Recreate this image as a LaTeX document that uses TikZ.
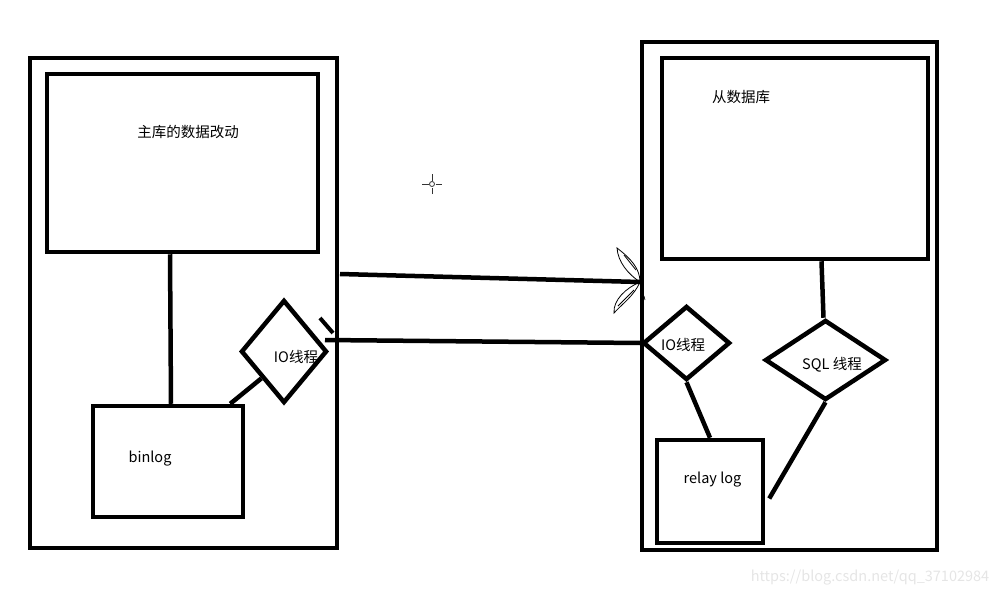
\documentclass[tikz,border=0pt]{standalone}
\usepackage{fontspec}
\setmainfont{Noto Sans CJK SC}
\usetikzlibrary{shapes.geometric}
\begin{document}
\begin{tikzpicture}[x=1pt,y=-1pt,
  thick line/.style={line width=4.5pt},
  boxnode/.style={draw,thick line,rectangle,inner sep=0pt},
  dianode/.style={draw,thick line,diamond,inner sep=0pt,aspect=1},
  lbl/.style={font=\fontsize{14.5}{16}\selectfont,inner sep=0pt},
  leaf/.style={line width=0.8pt},
  cross/.style={line width=1pt,black!80}]
\useasboundingbox (0,0) rectangle (1002,598);
% left side
\node[boxnode,minimum width=307pt,minimum height=490pt] (lout) at (183.5,303) {};
\node[boxnode,minimum width=271pt,minimum height=178pt] (mbox) at (182.5,163) {};
\node[boxnode,minimum width=150pt,minimum height=111pt] (binlog) at (168,461.5) {};
\node[dianode,minimum width=86pt,minimum height=103pt] (ldia) at (284,351.5) {};
\node[lbl] (t1) at (188,132) {主库的数据改动};
\node[lbl] (t2) at (150,459) {binlog};
\node[lbl] (t3) at (296,357) {IO线程};
% right side
\node[boxnode,minimum width=295pt,minimum height=508pt] (rout) at (789.5,296) {};
\node[boxnode,minimum width=266pt,minimum height=201pt] (rbox) at (795,158.5) {};
\node[dianode,minimum width=87pt,minimum height=74pt] (rio) at (686.5,343) {};
\node[dianode,minimum width=121pt,minimum height=80pt] (sql) at (825.5,360) {};
\node[boxnode,minimum width=106pt,minimum height=103pt] (relay) at (710,491.5) {};
\node[lbl] (t4) at (741,97) {从数据库};
\node[lbl] (t5) at (683,345) {IO线程};
\node[lbl] (t6) at (832,365) {SQL 线程};
\node[lbl] (t7) at (712.5,480) {relay log};
% connectors left
\draw[thick line] ([xshift=2pt]mbox.south -| binlog.north) -- ([xshift=3pt]binlog.north);
\draw[thick line] ([xshift=-15pt]binlog.north east) -- (ldia.south west);
% arrows between
\coordinate (u1) at (340,274);
\coordinate (u2) at (640,282);
\draw[thick line] (u1) -- (u2);
\coordinate (l1) at (325,340);
\draw[thick line] (l1) -- (rio.west);
\coordinate (k1) at (320,318);
\coordinate (k2) at (333,333);
\draw[line width=4pt] (k1) -- (k2);
% leaf arrowhead outline
\draw[leaf] (u2) .. controls (640,268) and (630,258) .. (617,248)
  .. controls (618,262) and (628,274) .. (u2);
\draw[leaf] (624,255) -- (636,270);
\draw[leaf] (u2) .. controls (634,296) and (622,304) .. (614,313)
  .. controls (613,300) and (626,288) .. (u2);
\draw[leaf] (618,306) -- (634,290);
\draw[line width=0.7pt] (644,296) -- (645,300);
% connectors right
\draw[thick line] ([xshift=-4pt]sql.north |- rbox.south) -- ([xshift=-2pt]sql.north);
\draw[thick line] (rio.south) -- (relay.north);
\draw[thick line] ([xshift=4pt,yshift=-7pt]relay.east) -- (sql.south);
% cursor crosshair
\coordinate (cc) at (432,184);
\draw[cross] ([yshift=-10pt]cc) -- ([yshift=-3.5pt]cc);
\draw[cross] ([yshift=3.5pt]cc) -- ([yshift=10pt]cc);
\draw[cross] ([xshift=-10pt]cc) -- ([xshift=-3.5pt]cc);
\draw[cross] ([xshift=3.5pt]cc) -- ([xshift=10pt]cc);
\draw[cross,line width=0.8pt] (cc) circle (2.5pt);
% watermark
\node[font=\fontsize{14.5}{16}\selectfont,text=black!10,inner sep=0pt] (wm) at (870,578) {https://blog.csdn.net/qq\_37102984};
\end{tikzpicture}
\end{document}
